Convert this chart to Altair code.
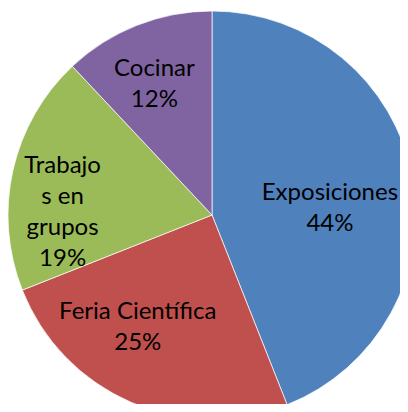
import altair as alt
import pandas as pd

categories = ["Exposiciones", "Feria Científica", "Trabajos en grupos", "Cocinar"]
values = [44, 25, 19, 12]
labels = ["Exposiciones\n44%", "Feria Científica\n25%", "Trabajo\ns en\ngrupos\n19%", "Cocinar\n12%"]
slice_order = [0, 1, 2, 3]
colors = ["#4F81BD", "#C0504D", "#9BBB59", "#8064A2"]

df = pd.DataFrame({"cat": categories, "val": values, "label": labels, "ord": slice_order})

CX, CY, R = 204, 207, 204
LH = 31

base = alt.Chart(df).encode(
    theta=alt.Theta("val:Q", stack=True),
    order=alt.Order("ord:Q"),
    x=alt.value(CX),
    y=alt.value(CY),
)

pie = base.mark_arc(stroke="white", strokeWidth=0.7).encode(
    radius=alt.value(R),
    color=alt.Color("cat:N", scale=alt.Scale(domain=categories, range=colors), legend=None),
)

# label placement style per slice: (radius, dx, dy, number of lines)
label_style = {
    "Exposiciones": (118, 2, 16, 2),
    "Feria Científica": (134, -21, -10, 2),
    "Trabajos en grupos": (149, -4, 30, 4),
    "Cocinar": (143, -5, 2, 2),
}

layers = [pie]
for c, (r, dx, dy, n) in label_style.items():
    layers.append(
        base.mark_text(
            dx=dx, dy=dy - (n - 1) * LH / 2, font="Lato", fontSize=24, lineHeight=LH,
            lineBreak="\n", color="black", align="center", baseline="middle",
        ).encode(
            radius=alt.value(r),
            text="label:N",
            opacity=alt.condition(f"datum.cat == '{c}'", alt.value(1), alt.value(0)),
        )
    )

chart = alt.layer(*layers).properties(
    width=392, height=396, padding=0, autosize=alt.AutoSizeParams(type="none")
).configure_view(stroke=None)

chart.save("out.html", embed_options={"renderer": "svg", "actions": False})
